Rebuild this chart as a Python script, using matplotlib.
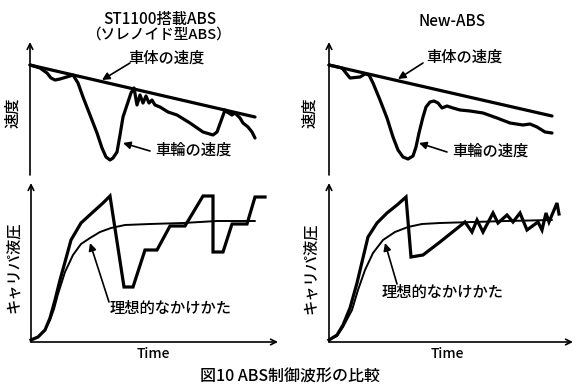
import matplotlib
matplotlib.use("Agg")
import matplotlib.pyplot as plt

plt.rcParams['font.family'] = ['Noto Sans CJK JP', 'DejaVu Sans']

# local units: time -> right, value -> up (origin at each panel's axis corner)
# --- top left: ST1100 speed ---
tl_body_t = [0, 225]
tl_body_v = [110, 58]
tl_wheel_t = [0, 10, 17, 21, 25, 30, 40, 43, 48, 53, 60, 67, 72, 76, 80, 83, 87, 90, 93,
              97, 101, 104, 107, 110, 113, 116, 119, 122, 125, 130, 138, 147, 160, 173,
              183, 187, 195, 197, 202, 205, 210, 213, 218, 222, 225]
tl_wheel_v = [110, 107, 102, 97, 95, 96, 99, 100, 92, 78, 60, 42, 27, 18, 15, 17, 23, 40, 58,
              70, 82, 87, 70, 80, 72, 79, 72, 75, 70, 68, 63, 60, 52, 43,
              40, 43, 65, 63, 60, 62, 57, 52, 48, 43, 37]

# --- top right: New-ABS speed ---
tr_body_t = [0, 223]
tr_body_v = [110, 59]
tr_wheel_t = [0, 13, 21, 31, 36, 40, 44, 51, 58, 64, 69, 74, 79, 84, 87, 90, 94, 97, 101,
              105, 109, 113, 118, 124, 131, 141, 154, 168, 181, 194, 201, 208, 216, 223]
tr_wheel_v = [110, 107, 97, 98, 101, 100, 92, 75, 57, 38, 25, 18, 16, 19, 28, 42, 58, 68, 73,
              74, 72, 67, 69, 67, 65, 64, 62, 57, 52, 50, 51, 48, 43, 42]

# --- bottom left: ST1100 caliper pressure ---
bl_ideal_t = [0, 7, 14, 19, 23, 27, 34, 42, 50, 59, 69, 80, 94, 119, 152, 186, 224]
bl_ideal_p = [2, 5, 12, 22, 33, 48, 70, 87, 98, 104, 110, 114, 117, 118, 119, 121, 121]
bl_act_t = [0, 7, 14, 19, 24, 29, 34, 40, 50, 62, 72, 79, 93, 102, 114, 126, 139, 154,
            172, 182, 182, 192, 201, 216, 224, 234]
bl_act_p = [2, 5, 12, 24, 42, 62, 80, 102, 119, 130, 139, 146, 55, 55, 92, 92, 116, 116,
            146, 146, 90, 90, 118, 118, 145, 145]

# --- bottom right: New-ABS caliper pressure ---
br_ideal_t = [0, 8, 14, 23, 29, 36, 44, 54, 66, 79, 93, 111, 144, 178, 223]
br_ideal_p = [2, 6, 15, 32, 52, 72, 89, 102, 110, 115, 118, 119, 120, 121, 122]
br_act_t = [0, 8, 14, 21, 28, 33, 39, 48, 58, 68, 77, 82, 94, 111, 136, 143, 148, 154,
            164, 169, 178, 184, 191, 198, 209, 213, 217, 220, 228, 230]
br_act_p = [2, 7, 17, 34, 59, 80, 105, 119, 129, 137, 145, 85, 87, 100, 120, 110, 122, 110,
            129, 119, 127, 120, 129, 112, 120, 112, 129, 120, 139, 128]

W, H = 580, 390
fig = plt.figure(figsize=(W / 100, H / 100), dpi=100)
fig.patch.set_facecolor('white')

THICK = 2.3
THIN = 1.4
FS = 11
WT = 'medium'


def panel(x0, y0, width, height):
    # 1 data unit = 1 pixel; origin at pixel (x0, y0)
    pad = 8
    ax = fig.add_axes([(x0 - pad) / W, 1 - (y0 + pad) / H,
                       (width + 2 * pad) / W, (height + 2 * pad) / H])
    ax.set_xlim(-pad, width + pad)
    ax.set_ylim(-pad, height + pad)
    ax.axis('off')
    ax.annotate('', xy=(0, height), xytext=(0, 0),
                arrowprops=dict(arrowstyle='->', color='k', lw=1.2, mutation_scale=10,
                                shrinkA=0, shrinkB=0))
    return ax


def pointer(ax, text, txy, tail, head):
    ax.text(txy[0], txy[1], text, ha='left', va='center', fontsize=FS, fontweight=WT)
    ax.annotate('', xy=head, xytext=tail,
                arrowprops=dict(arrowstyle='-|>', color='k', lw=1.2, mutation_scale=11,
                                shrinkA=0, shrinkB=0))


def curve(ax, t, v, lw):
    ax.plot(t, v, color='k', lw=lw, solid_joinstyle='round', solid_capstyle='round')


# top left
ax = panel(30, 175, 235, 133)
curve(ax, tl_body_t, tl_body_v, THICK)
curve(ax, tl_wheel_t, tl_wheel_v, THICK)
pointer(ax, '車体の速度', (98, 117), (100, 112), (72, 95))
pointer(ax, '車輪の速度', (125, 25), (120, 24), (93, 32))

# top right
ax = panel(329, 175, 235, 133)
curve(ax, tr_body_t, tr_body_v, THICK)
curve(ax, tr_wheel_t, tr_wheel_v, THICK)
pointer(ax, '車体の速度', (97, 118), (94, 112), (69, 96))
pointer(ax, '車輪の速度', (123, 24), (118, 23), (90, 32))

# bottom left
ax = panel(31, 342, 247, 159)
ax.annotate('', xy=(247, 0), xytext=(0, 0),
            arrowprops=dict(arrowstyle='->', color='k', lw=1.2, mutation_scale=10,
                            shrinkA=0, shrinkB=0))
curve(ax, bl_ideal_t, bl_ideal_p, THIN)
ax.plot(bl_act_t, bl_act_p, color='k', lw=THICK, solid_joinstyle='miter')
pointer(ax, '理想的なかけかた', (79, 34), (78, 40), (59, 99))
ax.text(122, -12, 'Time', ha='center', va='center', fontsize=10, fontweight=WT)

# bottom right
ax = panel(329, 342, 244, 159)
ax.annotate('', xy=(244, 0), xytext=(0, 0),
            arrowprops=dict(arrowstyle='->', color='k', lw=1.2, mutation_scale=10,
                            shrinkA=0, shrinkB=0))
curve(ax, br_ideal_t, br_ideal_p, THIN)
ax.plot(br_act_t, br_act_p, color='k', lw=THICK, solid_joinstyle='miter')
pointer(ax, '理想的なかけかた', (53, 50), (68, 58), (56, 99))
ax.text(118, -12, 'Time', ha='center', va='center', fontsize=10, fontweight=WT)


# titles and labels
def ftext(x, y, s, fs=FS, **kw):
    fig.text(x / W, 1 - y / H, s, ha='center', va='center', fontsize=fs,
             fontweight=WT, **kw)


ftext(160, 19, 'ST1100搭載ABS')
ftext(158, 35, '（ソレノイド型ABS）', fs=10.5)
ftext(452, 22, 'New-ABS')
ftext(13, 113, '速度', rotation=90)
ftext(310, 113, '速度', rotation=90)
ftext(13, 267, 'キャリパ液圧', rotation=90)
ftext(310, 268, 'キャリパ液圧', rotation=90)
ftext(290, 377, '図10 ABS制御波形の比較', fs=11.5)

fig.savefig('out.png', dpi=100, facecolor='white')
